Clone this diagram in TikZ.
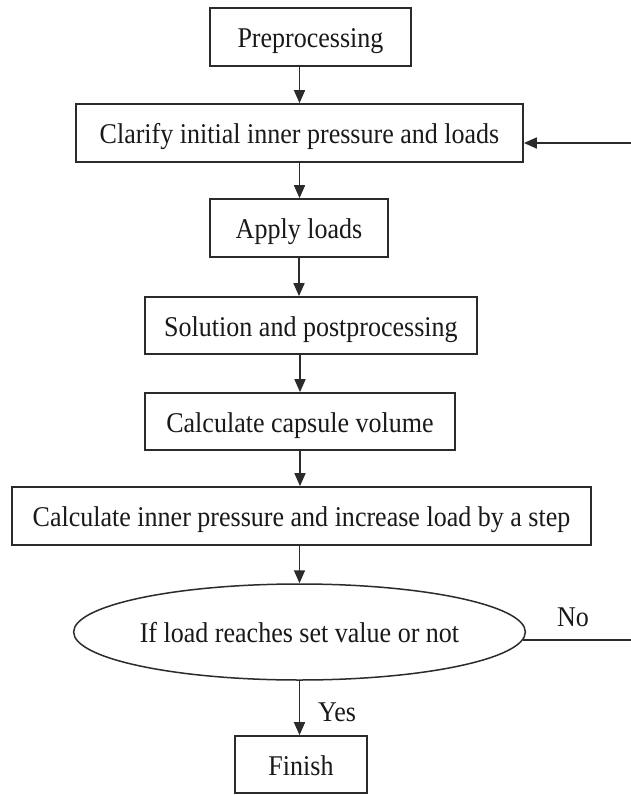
\documentclass[tikz,border=0pt]{standalone}
\usepackage{fontspec}
\setmainfont{Liberation Serif}[FakeStretch=0.91]
\usetikzlibrary{arrows.meta,shapes.geometric}
\definecolor{ink}{HTML}{2B2B2B}
\tikzset{
  txt/.style={font=\fontsize{28.6pt}{32pt}\selectfont, text=black!90},
  stepbox/.style={txt, draw=ink, line width=1.7pt, rectangle, inner sep=0pt,
    text height=21pt, text depth=0pt},
  decision/.style={txt, draw=ink, line width=1.5pt, ellipse, inner sep=0pt,
    text height=21pt, text depth=0pt},
  lbl/.style={txt, inner sep=0pt, text height=21pt, text depth=0pt},
  flow/.style={draw=ink, line width=1.7pt, -{Triangle[length=13pt,width=11pt]}}
}
\begin{document}
\begin{tikzpicture}[x=1pt,y=-1pt]
\useasboundingbox (0,0) rectangle (630,795);
\fill[white] (0,0) rectangle (630,795);

\node[stepbox, minimum width=201pt, minimum height=58pt] (pre) at (310.5,37) {Preprocessing};
\node[stepbox, minimum width=447pt, minimum height=58pt] (cla) at (299.5,133) {Clarify initial inner pressure and loads};
\node[stepbox, minimum width=178pt, minimum height=58pt] (app) at (299,228) {Apply loads};
\node[stepbox, minimum width=332pt, minimum height=57pt] (sol) at (311,325.5) {Solution and postprocessing};
\node[stepbox, minimum width=310pt, minimum height=57pt] (cap) at (300,421.5) {Calculate capsule volume};
\node[stepbox, minimum width=579pt, minimum height=58pt] (inp) at (301.5,516) {Calculate inner pressure and increase load by a step};
\node[decision, minimum width=447pt, minimum height=96pt] (dec) at (299.5,632) {If load reaches set value or not};
\node[stepbox, minimum width=132pt, minimum height=57pt] (fin) at (301,764.5) {Finish};

\node[lbl] (no) at (573,616) {No};
\node[lbl] (yes) at (337,711) {Yes};

\coordinate (rt) at (645,0);

\draw[flow] (pre.south -| cla.north) -- (cla.north);
\draw[flow] (cla.south) -- (app.north -| cla.south);
\draw[flow] (app.south) -- (sol.north -| app.south);
\draw[flow] (sol.south -| cap.north) -- (cap.north);
\draw[flow] (cap.south) -- (inp.north -| cap.south);
\draw[flow] (inp.south -| dec.north) -- (dec.north);
\draw[flow] (dec.south) -- (fin.north -| dec.south);
\draw[flow] (dec.-2.6) -- (dec.-2.6 -| rt) -- ([yshift=-10pt]cla.east -| rt) -- ([yshift=-10pt]cla.east);
\end{tikzpicture}
\end{document}
